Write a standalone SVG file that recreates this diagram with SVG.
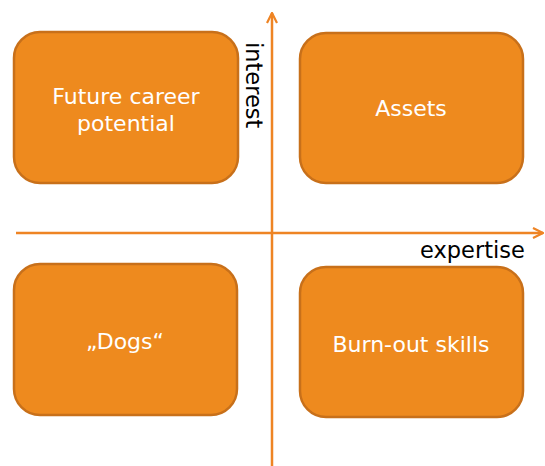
<svg xmlns="http://www.w3.org/2000/svg" width="545" height="466" viewBox="0 0 545 466">
<defs>
<style>
.box{fill:#EE8A1E;stroke:#C8701A;stroke-width:2.5}
.lbl{fill:#FFFFFF;font-family:"DejaVu Sans",Verdana,sans-serif;font-size:22px;text-anchor:middle}
.axl{fill:#000000;font-family:"DejaVu Sans",Verdana,sans-serif;font-size:22.5px}
.axis{stroke:#EE8424;stroke-width:2.5;fill:none}
</style>
<marker id="arr" viewBox="0 0 12 12" refX="11" refY="6" markerWidth="12" markerHeight="12" markerUnits="userSpaceOnUse" orient="auto">
<path d="M1,1 L11,6 L1,11" fill="none" stroke="#EE8424" stroke-width="2.2"/>
</marker>
</defs>
<rect width="545" height="466" fill="#FFFFFF"/>
<g id="connectors">
<line class="axis" x1="272" y1="466" x2="272" y2="13" marker-end="url(#arr)"/>
<line class="axis" x1="16" y1="233" x2="543" y2="233" marker-end="url(#arr)"/>
</g>
<g id="node-future">
<rect class="box" x="14" y="32" width="224" height="151" rx="26"/>
<text class="lbl" x="126" y="104">Future career</text>
<text class="lbl" x="126" y="131">potential</text>
</g>
<g id="node-assets">
<rect class="box" x="300" y="33" width="223" height="150" rx="26"/>
<text class="lbl" x="411" y="116">Assets</text>
</g>
<g id="node-dogs">
<rect class="box" x="14" y="264" width="223" height="151" rx="26"/>
<text class="lbl" x="125" y="349">„Dogs“</text>
</g>
<g id="node-burnout">
<rect class="box" x="300" y="267" width="223" height="150" rx="26"/>
<text class="lbl" x="411" y="352">Burn-out skills</text>
</g>
<g id="axis-labels">
<text class="axl" transform="translate(246,42) rotate(90)">interest</text>
<text class="axl" x="420" y="258">expertise</text>
</g>
</svg>
